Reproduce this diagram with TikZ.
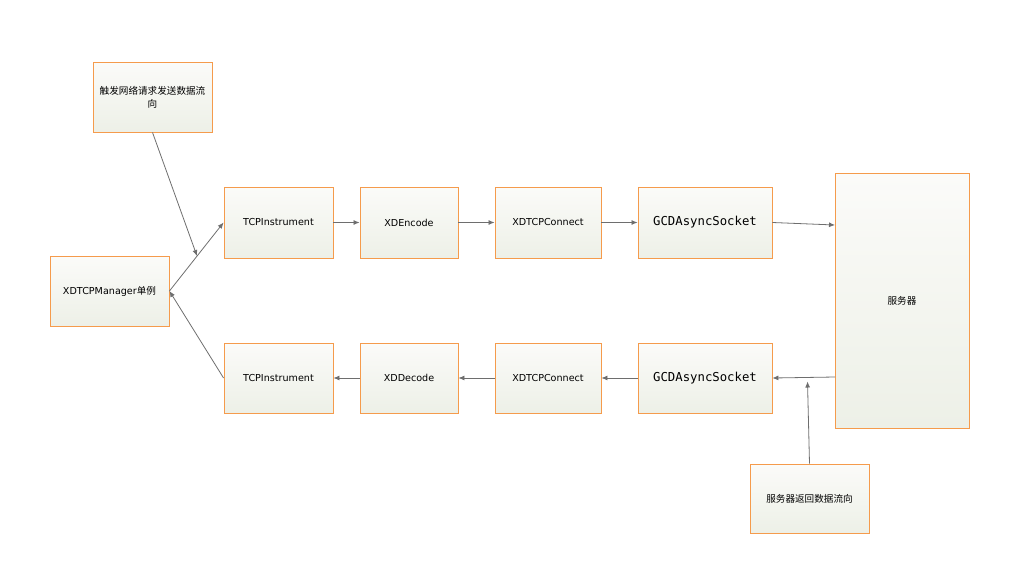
\documentclass[tikz,border=0pt]{standalone}
\usepackage{fontspec}
\setmainfont{DejaVu Sans}
\newfontfamily\cjk{Noto Sans CJK SC}
\newfontfamily\mono{DejaVu Sans Mono}
\usepackage{tikz}
\usetikzlibrary{calc, arrows.meta}
\definecolor{boxline}{HTML}{F59B4C}
\definecolor{boxtop}{HTML}{FBFBF9}
\definecolor{boxbot}{HTML}{EDF0E7}
\definecolor{wire}{HTML}{6E6E6E}

\begin{document}
\begin{tikzpicture}[x=1pt,y=-1pt]
\tikzstyle{box}=[rectangle,draw=boxline,line width=0.9pt,top color=boxtop,bottom color=boxbot,inner sep=2pt,font=\fontsize{9.6}{13}\selectfont,align=center]
\tikzstyle{wide}=[box,minimum width=109pt,minimum height=71pt]
\tikzstyle{conn}=[draw=wire,line width=0.8pt,-{Latex[length=6pt,width=5pt]}]
\useasboundingbox (0,0) rectangle (1036,584);
% boxes
\node[box,minimum width=119pt,minimum height=70pt] (trig) at (152.5,97) {{\cjk 触发网络请求发送数据流}\\{\cjk 向}};
\node[box,minimum width=119pt,minimum height=70pt] (mgr) at (109.5,291) {XDTCPManager{\cjk 单例}};
\node[wide] (ti1) at (278.5,222.5) {TCPInstrument};
\node[box,minimum width=98pt,minimum height=71pt] (enc) at (409,222.5) {XDEncode};
\node[box,minimum width=106pt,minimum height=71pt] (con1) at (548,222.5) {XDTCPConnect};
\node[box,minimum width=134pt,minimum height=71pt,font=\mono\fontsize{12.3}{14}\selectfont] (gcd1) at (705,222.5) {GCDAsyncSocket};
\node[box,minimum width=134pt,minimum height=255pt] (srv) at (902,300.5) {{\cjk 服务器}};
\node[wide,minimum height=70pt] (ti2) at (278.5,378) {TCPInstrument};
\node[box,minimum width=98pt,minimum height=70pt] (dec) at (409,378) {XDDecode};
\node[box,minimum width=106pt,minimum height=70pt] (con2) at (548,378) {XDTCPConnect};
\node[box,minimum width=134pt,minimum height=70pt,font=\mono\fontsize{12.3}{14}\selectfont] (gcd2) at (705,378) {GCDAsyncSocket};
\node[box,minimum width=119pt,minimum height=69pt] (ret) at (809.5,498.5) {{\cjk 服务器返回数据流向}};
% points on lines
\coordinate (join) at (197,256);
\coordinate (srvin) at (835,225);
\coordinate (srvout) at (835,377);
\coordinate (back) at (807.5,381.5);
% send path
\draw[conn] (trig.south) -- (join);
\draw[conn] (mgr.east) -- (ti1.west);
\draw[conn] (ti1) -- (enc);
\draw[conn] (enc) -- (con1);
\draw[conn] (con1) -- (gcd1);
\draw[conn] (gcd1.east) -- (srvin);
% receive path
\draw[conn] (srvout) -- (gcd2.east);
\draw[conn] (ret.north) -- (back);
\draw[conn] (gcd2) -- (con2);
\draw[conn] (con2) -- (dec);
\draw[conn] (dec) -- (ti2);
\draw[conn] (ti2.west) -- (mgr.east);
\end{tikzpicture}
\end{document}
